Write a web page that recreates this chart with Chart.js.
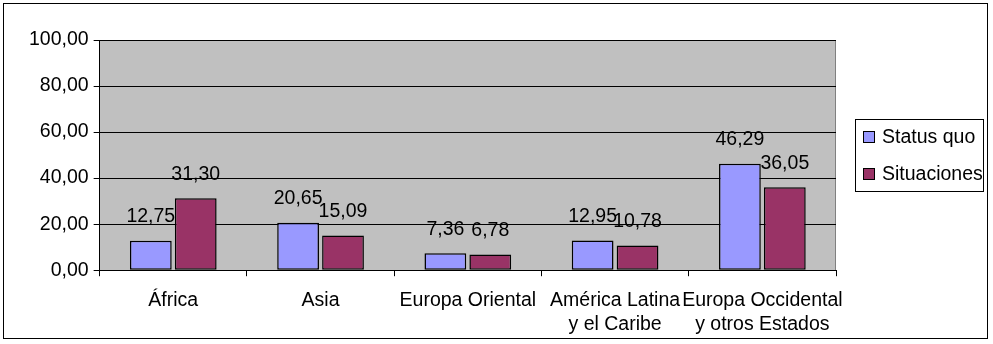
<!DOCTYPE html>
<html>
<head>
<meta charset="utf-8">
<script src="https://cdn.jsdelivr.net/npm/chart.js@4.4.1/dist/chart.umd.min.js"></script>
<style>
  html, body { margin: 0; padding: 0; background: #fff; }
  #wrap { width: 993px; height: 344px; }
</style>
</head>
<body>
<div id="wrap"><canvas id="grafico" width="993" height="344"></canvas></div>
<script>
// datos
const regiones = [['África'], ['Asia'], ['Europa Oriental'], ['América Latina', 'y el Caribe'], ['Europa Occidental', 'y otros Estados']];
const statusQuo = [12.75, 20.65, 7.36, 12.95, 46.29];
const situaciones = [31.30, 15.09, 6.78, 10.78, 36.05];
const yTicks = [0, 20, 40, 60, 80, 100];

const coma = v => v.toFixed(2).replace('.', ',');
const fuente = { family: '"Liberation Sans", Arial, sans-serif', size: 19.5 };

// fondo gris del area del grafico
const fondo = {
    id: 'fondo',
    beforeDraw(chart) {
        const { ctx, chartArea: a } = chart;
        ctx.save();
        ctx.fillStyle = '#fff';
        ctx.fillRect(0, 0, chart.width, chart.height);
        ctx.fillStyle = '#c0c0c0';
        ctx.fillRect(a.left, a.top, a.right - a.left, a.bottom - a.top);
        ctx.strokeStyle = '#808080';
        ctx.lineWidth = 1;
        ctx.beginPath();
        ctx.moveTo(a.right - 0.5, a.top);
        ctx.lineTo(a.right - 0.5, a.bottom);
        ctx.stroke();
        ctx.restore();
    }
};

// valores encima de las barras
const etiquetas = {
    id: 'etiquetas',
    afterDatasetsDraw(chart) {
        const { ctx } = chart;
        ctx.save();
        ctx.font = `${fuente.size}px ${fuente.family}`;
        ctx.fillStyle = '#000';
        ctx.textAlign = 'center';
        ctx.textBaseline = 'middle';
        chart.data.datasets.forEach((ds, i) => {
            chart.getDatasetMeta(i).data.forEach((bar, j) => {
                ctx.fillText(coma(ds.data[j]), bar.x, bar.y - 24);
            });
        });
        ctx.restore();
    }
};

// marco exterior y leyenda con recuadro (estilo Excel)
const marco = {
    id: 'marco',
    afterDraw(chart) {
        const { ctx } = chart;
        ctx.save();
        ctx.strokeStyle = '#000';
        ctx.lineWidth = 1;
        ctx.strokeRect(3.5, 3.5, 984, 335);

        const lx = 855, ly = 119, lw = 128, lh = 72;
        ctx.strokeRect(lx + 0.5, ly + 0.5, lw, lh);
        ctx.font = `${fuente.size}px ${fuente.family}`;
        ctx.textAlign = 'left';
        ctx.textBaseline = 'middle';
        chart.data.datasets.forEach((ds, i) => {
            const cy = ly + 18 + i * 37;
            ctx.fillStyle = ds.backgroundColor;
            ctx.fillRect(lx + 8, cy - 6, 12, 12);
            ctx.strokeStyle = '#000';
            ctx.strokeRect(lx + 8.5, cy - 5.5, 11, 11);
            ctx.fillStyle = '#000';
            ctx.fillText(ds.label, lx + 27, cy + 1);
        });
        ctx.restore();
    }
};

new Chart(document.getElementById('grafico').getContext('2d'), {
    type: 'bar',
    data: {
        labels: regiones,
        datasets: [{
            label: 'Status quo',
            data: statusQuo,
            backgroundColor: '#9999ff',
            borderColor: '#000',
            borderWidth: 1.5,
            borderSkipped: false
        }, {
            label: 'Situaciones',
            data: situaciones,
            backgroundColor: '#993366',
            borderColor: '#000',
            borderWidth: 1.5,
            borderSkipped: false
        }]
    },
    options: {
        responsive: false,
        animation: false,
        devicePixelRatio: 1,
        categoryPercentage: 0.61,
        barPercentage: 0.93,
        layout: { padding: { left: 24, top: 40, right: 157, bottom: -5 } },
        scales: {
            x: {
                grid: { drawOnChartArea: false, drawTicks: true, tickLength: 6, color: '#000', offset: true },
                border: { color: '#000', width: 1 },
                ticks: { color: '#000', font: fuente, padding: 13, maxRotation: 0, autoSkip: false }
            },
            y: {
                min: 0,
                max: 100,
                afterBuildTicks: s => { s.ticks = yTicks.map(v => ({ value: v })); },
                grid: { color: '#000', lineWidth: 1, tickLength: 6 },
                border: { color: '#000', width: 1 },
                ticks: { color: '#000', font: fuente, padding: 5, callback: v => coma(v) }
            }
        },
        plugins: {
            legend: { display: false },
            tooltip: { enabled: false }
        }
    },
    plugins: [fondo, etiquetas, marco]
});
</script>
</body>
</html>
